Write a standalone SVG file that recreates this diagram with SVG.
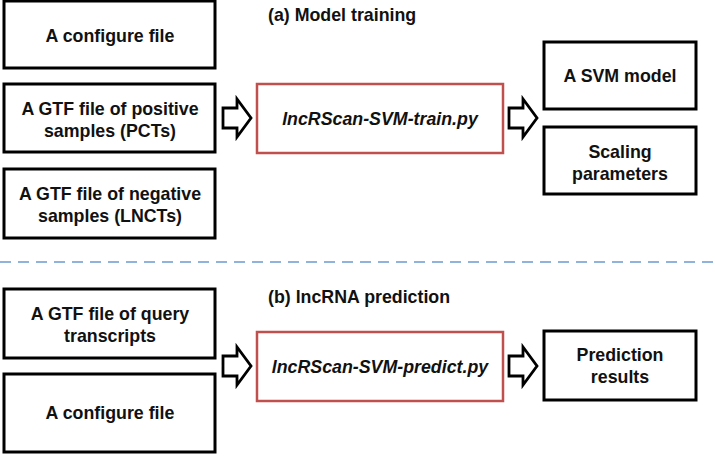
<svg xmlns="http://www.w3.org/2000/svg" width="715" height="461" viewBox="0 0 715 461">
<style>
text{font-family:"Liberation Sans",Arial,sans-serif;font-weight:bold;font-size:17.8px;fill:#111;text-anchor:middle}
.b{fill:#fff;stroke:#000;stroke-width:3}
.r{fill:#fff;stroke:#c0504d;stroke-width:2.5}
.it{font-style:italic}
.t{text-anchor:start}
.ar{fill:#fff;stroke:#000;stroke-width:2.8;stroke-linejoin:miter}
</style>
<defs>
<path id="arr" class="ar" d="M0,-10 H14 V-19 L28,0 L14,19 V10 H0 Z"/>
</defs>
<rect width="715" height="461" fill="#fff"/>
<text class="t" x="268" y="21">(a) Model training</text>
<text class="t" x="268" y="303">(b) lncRNA prediction</text>
<g id="n1"><rect class="b" x="4" y="1" width="211" height="67"/><text x="110" y="41.5">A configure file</text></g>
<g id="n2"><rect class="b" x="4" y="84" width="211" height="68"/><text x="110" y="114.5">A GTF file of positive</text><text x="110" y="136.5">samples (PCTs)</text></g>
<g id="n3"><rect class="b" x="4" y="169" width="211" height="69"/><text x="110" y="199.5">A GTF file of negative</text><text x="110" y="221.5">samples (LNCTs)</text></g>
<g id="n4"><rect class="r" x="257" y="84" width="246" height="69"/><text class="it" x="380" y="124.5">lncRScan-SVM-train.py</text></g>
<g id="n5"><rect class="b" x="544" y="42" width="152" height="67"/><text x="620" y="82">A SVM model</text></g>
<g id="n6"><rect class="b" x="544" y="127" width="152" height="67"/><text x="620" y="157.5">Scaling</text><text x="620" y="179.5">parameters</text></g>
<g id="n7"><rect class="b" x="4" y="289" width="211" height="69"/><text x="110" y="319.5">A GTF file of query</text><text x="110" y="341.5">transcripts</text></g>
<g id="n8"><rect class="b" x="4" y="374" width="211" height="78"/><text x="110" y="419">A configure file</text></g>
<g id="n9"><rect class="r" x="257" y="332" width="246" height="69"/><text class="it" x="380" y="372.5">lncRScan-SVM-predict.py</text></g>
<g id="n10"><rect class="b" x="544" y="331" width="152" height="69"/><text x="620" y="361">Prediction</text><text x="620" y="383">results</text></g>
<g id="connectors">
<line x1="0" y1="262" x2="715" y2="262" stroke="#6b9bd1" stroke-width="1.5" stroke-dasharray="11,7"/>
<use href="#arr" x="223" y="118"/>
<use href="#arr" x="509" y="118"/>
<use href="#arr" x="223" y="366"/>
<use href="#arr" x="509" y="366"/>
</g>
</svg>
